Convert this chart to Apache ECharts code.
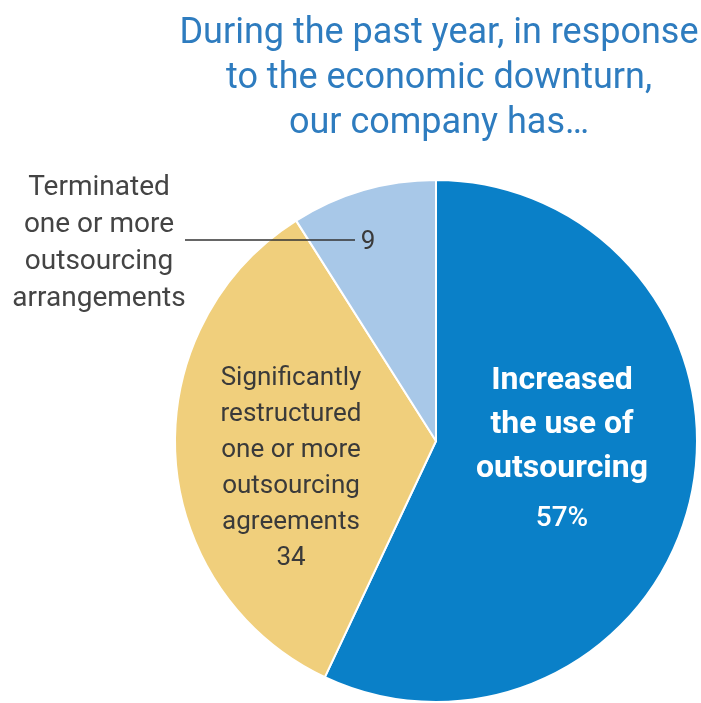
<!DOCTYPE html>
<html><head><meta charset="utf-8">
<script src="https://cdn.jsdelivr.net/npm/echarts@6/dist/echarts.min.js"></script>
<style>html,body{margin:0;padding:0;background:#fff}#c{width:701px;height:703px}</style>
</head><body><div id="c"></div>
<script>
const titleLines = ['During the past year, in response', 'to the economic downturn,', 'our company has\u2026'];
const categories = ['Increased\nthe use of\noutsourcing', 'Significantly\nrestructured\none or more\noutsourcing\nagreements', 'Terminated\none or more\noutsourcing\narrangements'];
const values = [57, 34, 9];
const valueLabels = ['57%', '34', '9'];
const colors = ['#0a80c8', '#f0cf7c', '#a8c8e8'];

const chart = echarts.init(document.getElementById('c'), null, {renderer: 'canvas'});
const FONT = 'Roboto';
const labelPos = [[562, 453], [291, 468], [368, 242]];

const data = values.map((v, i) => {
  let label;
  if (i === 0) {
    label = {show: true, formatter: () => '{t|' + categories[0] + '}\n{p|' + valueLabels[0] + '}',
      rich: {t: {color: '#fff', fontSize: 32, fontWeight: 'bold', lineHeight: 44, fontFamily: FONT, align: 'center'},
             p: {color: '#fff', fontSize: 28, fontWeight: 500, lineHeight: 56, fontFamily: FONT, align: 'center'}}};
  } else if (i === 1) {
    label = {show: true, formatter: () => categories[1] + '\n' + valueLabels[1],
      color: '#3a3a3a', fontSize: 26, lineHeight: 36, fontFamily: FONT, align: 'center'};
  } else {
    label = {show: true, formatter: () => valueLabels[2], color: '#3a3a3a', fontSize: 26, fontFamily: FONT};
  }
  return {value: v, name: categories[i], itemStyle: {color: colors[i]}, label};
});

chart.setOption({
  animation: false,
  title: {
    text: titleLines.join('\n'), left: 434, top: 6, textAlign: 'center',
    textStyle: {color: '#2e7cbf', fontSize: 36, fontWeight: 'normal', lineHeight: 45, fontFamily: FONT}
  },
  series: [{
    type: 'pie', center: [436, 441], radius: 261, startAngle: 90, clockwise: true, z: 2,
    itemStyle: {borderColor: '#fff', borderWidth: 2},
    label: {position: 'inside'},
    labelLine: {show: false},
    labelLayout: (p) => ({x: labelPos[p.dataIndex][0], y: labelPos[p.dataIndex][1], align: 'center', verticalAlign: 'middle'}),
    data
  }],
  graphic: [
    {type: 'line', z: 100, shape: {x1: 185, y1: 240, x2: 355, y2: 240}, style: {stroke: '#333', lineWidth: 1.5}},
    {type: 'text', z: 100, x: 99, y: 243, style: {text: categories[2], fill: '#444', fontSize: 28, lineHeight: 37, fontFamily: FONT, align: 'center', verticalAlign: 'middle'}}
  ]
});
</script></body></html>
